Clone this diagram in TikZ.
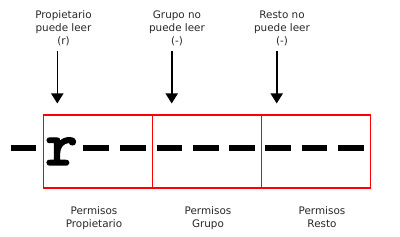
\documentclass[tikz,border=0pt]{standalone}
\usepackage{fontspec}
\setmainfont{DejaVu Sans}
\newfontfamily\rfont{lmmonolt10-bold.otf}[FakeBold=2]
\usetikzlibrary{arrows.meta}
\definecolor{boxred}{RGB}{255,0,0}
\definecolor{txt}{RGB}{40,40,40}
\begin{document}
\begin{tikzpicture}[x=1pt,y=-1pt,
  lbl/.style={align=center,inner sep=0pt,anchor=north,text=txt,
    font=\fontsize{10.4}{12.8}\selectfont},
  permbox/.style={draw=boxred,line width=1.2pt,minimum width=109pt,minimum height=73pt,inner sep=0pt,anchor=north west},
  ptr/.style={line width=1.6pt,-{Triangle[width=12pt,length=10pt]}},
  dsh/.style={line width=6pt,line cap=butt}]
\useasboundingbox (0,0) rectangle (400,237);
% boxes
\node[permbox] (b1) at (42.5,114.5) {};
\node[permbox] (b2) at (151.5,114.5) {};
\node[permbox] (b3) at (260.5,114.5) {};
% top labels
\node[lbl] (t1) at (63.5,10.8) {Propietario\\puede leer\\(r)};
\node[lbl] (t2) at (177,10.8) {Grupo no\\puede leer\\(-)};
\node[lbl] (t3) at (282,10.8) {Resto no\\puede leer\\(-)};
% arrows
\coordinate (a1s) at (57.3,51.5); \coordinate (a1e) at (57.3,103.5);
\coordinate (a2s) at (171.7,51.5); \coordinate (a2e) at (171.7,103.5);
\coordinate (a3s) at (276.7,51.5); \coordinate (a3e) at (276.7,103.5);
\draw[ptr] (a1s) -- (a1e);
\draw[ptr] (a2s) -- (a2e);
\draw[ptr] (a3s) -- (a3e);
% dashes and r
\foreach \x in {10.7,83,120,156.7,193.3,229.3,265,301.7,338.3}
  \draw[dsh] (\x,147.7) -- ++(25.5,0);
\node[inner sep=0pt,anchor=base,font=\rfont\fontsize{62}{62}\selectfont] (r) at (61.5,165) {r};
% bottom labels
\node[lbl] (p1) at (94,206.8) {Permisos\\Propietario};
\node[lbl] (p2) at (208,206.8) {Permisos\\Grupo};
\node[lbl] (p3) at (322,206.8) {Permisos\\Resto};
\end{tikzpicture}
\end{document}
